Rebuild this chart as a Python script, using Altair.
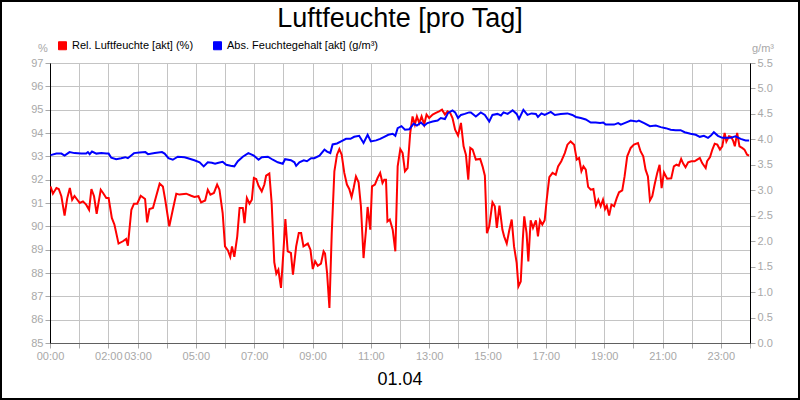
import altair as alt
import pandas as pd

FONT = "Liberation Sans"

series_names = ["Rel. Luftfeuchte [akt] (%)", "Abs. Feuchtegehalt [akt] (g/m³)"]
series_colors = ["#ff0000", "#0000ff"]

rel_hours = [0.02, 0.10, 0.22, 0.30, 0.39, 0.50, 0.59, 0.68, 0.76, 0.84,
             1.02, 1.13, 1.24, 1.34, 1.42, 1.51, 1.60, 1.74, 1.82, 1.93,
             2.01, 2.12, 2.21, 2.35, 2.50, 2.61, 2.67, 2.79, 2.88, 2.99,
             3.11, 3.26, 3.33, 3.41, 3.53, 3.64, 3.76, 3.87, 3.95, 4.09,
             4.21, 4.33, 4.44, 4.67, 4.84, 4.95, 5.09, 5.18, 5.32, 5.41,
             5.50, 5.62, 5.73, 5.81, 5.92, 6.00, 6.10, 6.18, 6.24, 6.32,
             6.42, 6.50, 6.61, 6.67, 6.75, 6.84, 6.92, 6.99, 7.07, 7.15,
             7.26, 7.35, 7.41, 7.52, 7.60, 7.69, 7.76, 7.83, 7.92, 8.00,
             8.07, 8.15, 8.26, 8.33, 8.44, 8.53, 8.61, 8.69, 8.84, 8.93,
             9.01, 9.09, 9.18, 9.29, 9.38, 9.43, 9.50, 9.58, 9.66, 9.75,
             9.84, 9.92, 10.00, 10.09, 10.18, 10.26, 10.34, 10.41, 10.49, 10.58,
             10.66, 10.75, 10.83, 10.89, 10.98, 11.04, 11.14, 11.23, 11.32, 11.40,
             11.46, 11.52, 11.57, 11.65, 11.75, 11.84, 11.92, 12.01, 12.09, 12.17,
             12.26, 12.35, 12.43, 12.51, 12.58, 12.66, 12.74, 12.83, 12.91, 13.00,
             13.12, 13.23, 13.34, 13.44, 13.54, 13.63, 13.72, 13.80, 13.89, 13.99,
             14.09, 14.18, 14.26, 14.34, 14.41, 14.49, 14.60, 14.75, 14.83, 14.91,
             14.98, 15.06, 15.17, 15.25, 15.32, 15.41, 15.51, 15.57, 15.66, 15.74,
             15.83, 15.91, 16.00, 16.06, 16.14, 16.21, 16.26, 16.34, 16.40, 16.48,
             16.56, 16.66, 16.73, 16.80, 16.88, 16.96, 17.03, 17.12, 17.23, 17.34,
             17.42, 17.53, 17.65, 17.74, 17.85, 17.97, 18.06, 18.14, 18.22, 18.29,
             18.37, 18.45, 18.54, 18.63, 18.72, 18.80, 18.88, 18.96, 19.03, 19.09,
             19.17, 19.25, 19.34, 19.43, 19.51, 19.62, 19.70, 19.79, 19.91, 20.02,
             20.16, 20.25, 20.34, 20.42, 20.50, 20.57, 20.65, 20.73, 20.82, 20.90,
             20.97, 21.05, 21.16, 21.30, 21.39, 21.48, 21.56, 21.64, 21.71, 21.79,
             21.88, 21.99, 22.10, 22.19, 22.28, 22.36, 22.48, 22.53, 22.63, 22.71,
             22.79, 22.88, 22.97, 23.05, 23.13, 23.19, 23.28, 23.36, 23.43, 23.48,
             23.56, 23.64, 23.73, 23.81, 23.90, 23.97]

rel_values = [91.71, 91.40, 91.64, 91.60, 91.29, 90.46, 91.20, 91.64, 91.14, 91.30,
              91.00, 91.07, 90.93, 90.71, 91.60, 91.29, 90.54, 91.57, 91.43, 91.21,
              91.21, 90.36, 90.07, 89.26, 89.36, 89.46, 89.17, 90.71, 90.97, 90.97,
              91.31, 91.17, 90.17, 90.74, 90.79, 91.29, 91.83, 91.71, 91.14, 90.00,
              90.71, 91.40, 91.36, 91.40, 91.31, 91.26, 91.29, 91.03, 91.11, 91.57,
              91.36, 91.43, 91.79, 91.57, 90.57, 89.14, 88.97, 88.69, 89.14, 88.69,
              89.57, 90.79, 90.79, 90.14, 91.21, 90.97, 91.14, 92.07, 92.03, 91.74,
              91.50, 91.79, 92.17, 92.26, 91.00, 88.46, 87.97, 88.14, 87.36, 88.86,
              90.31, 88.93, 88.86, 87.93, 89.14, 89.71, 89.71, 89.14, 89.26, 89.00,
              88.17, 88.50, 88.31, 88.40, 88.93, 88.83, 88.00, 86.50, 89.71, 92.36,
              93.07, 93.31, 93.07, 92.29, 91.79, 91.60, 91.26, 91.64, 92.14, 91.89,
              90.86, 88.64, 89.79, 90.83, 89.86, 91.71, 91.79, 92.07, 92.29, 91.86,
              92.00, 92.00, 90.21, 90.29, 89.86, 88.93, 92.57, 93.31, 93.14, 92.36,
              92.50, 94.00, 94.71, 94.36, 94.71, 94.43, 94.71, 94.36, 94.79, 94.64,
              94.79, 94.86, 94.93, 95.00, 94.79, 94.93, 94.86, 94.64, 94.14, 93.89,
              94.43, 93.43, 93.07, 92.00, 93.36, 93.29, 92.86, 92.89, 92.57, 92.17,
              89.71, 90.00, 91.03, 90.86, 89.93, 90.89, 89.86, 89.57, 89.26, 89.79,
              90.29, 89.14, 88.43, 87.43, 87.64, 89.43, 90.43, 89.71, 88.50, 90.26,
              89.93, 90.26, 89.57, 90.26, 90.07, 90.26, 91.14, 92.11, 92.29, 92.21,
              92.57, 92.79, 93.14, 93.50, 93.64, 93.50, 92.86, 92.93, 92.36, 92.57,
              92.43, 91.69, 91.57, 91.60, 90.89, 91.14, 90.86, 91.14, 90.74, 90.89,
              90.46, 90.93, 90.86, 91.21, 91.46, 91.54, 92.14, 93.00, 93.36, 93.50,
              93.57, 93.21, 93.00, 92.43, 92.14, 91.11, 91.29, 91.79, 92.29, 92.64,
              91.64, 92.31, 92.04, 92.06, 92.57, 92.64, 92.60, 92.89, 92.69, 92.53,
              92.74, 92.79, 92.79, 92.86, 92.93, 92.71, 92.50, 92.79, 92.97, 93.29,
              93.54, 93.50, 93.29, 93.43, 94.00, 93.64, 93.86, 93.83, 93.64, 93.43,
              94.00, 93.43, 93.36, 93.29, 93.07, 93.03]

abs_hours = [0.02, 0.22, 0.39, 0.50, 0.67, 0.84, 1.07, 1.24, 1.30, 1.36,
             1.44, 1.59, 1.76, 1.93, 2.01, 2.10, 2.27, 2.44, 2.58, 2.67,
             2.88, 3.07, 3.27, 3.36, 3.59, 3.84, 3.93, 4.06, 4.21, 4.38,
             4.61, 4.73, 4.95, 5.13, 5.27, 5.41, 5.55, 5.66, 5.78, 5.92,
             6.04, 6.19, 6.32, 6.44, 6.61, 6.80, 6.99, 7.15, 7.26, 7.47,
             7.64, 7.81, 7.98, 8.06, 8.26, 8.38, 8.44, 8.55, 8.70, 8.81,
             8.95, 9.06, 9.24, 9.41, 9.50, 9.61, 9.69, 9.84, 9.98, 10.15,
             10.30, 10.43, 10.60, 10.75, 10.89, 11.00, 11.18, 11.32, 11.46, 11.60,
             11.75, 11.84, 11.92, 12.05, 12.17, 12.32, 12.47, 12.58, 12.72, 12.83,
             12.94, 13.12, 13.29, 13.40, 13.54, 13.65, 13.80, 13.89, 13.99, 14.09,
             14.22, 14.37, 14.43, 14.60, 14.77, 14.91, 15.06, 15.17, 15.34, 15.46,
             15.55, 15.69, 15.86, 16.00, 16.08, 16.23, 16.37, 16.51, 16.66, 16.73,
             16.85, 16.96, 17.17, 17.31, 17.51, 17.74, 17.91, 18.03, 18.20, 18.37,
             18.54, 18.71, 18.86, 18.97, 19.05, 19.17, 19.34, 19.48, 19.57, 19.74,
             19.91, 20.11, 20.19, 20.37, 20.57, 20.77, 20.94, 21.11, 21.28, 21.45,
             21.62, 21.76, 21.96, 22.14, 22.28, 22.42, 22.56, 22.65, 22.76, 22.90,
             23.05, 23.20, 23.33, 23.50, 23.68, 23.85, 23.97]

abs_values = [3.69, 3.72, 3.72, 3.68, 3.75, 3.73, 3.72, 3.72, 3.75, 3.71,
              3.76, 3.72, 3.73, 3.72, 3.72, 3.64, 3.61, 3.63, 3.65, 3.63,
              3.73, 3.74, 3.75, 3.71, 3.73, 3.75, 3.72, 3.63, 3.60, 3.66,
              3.65, 3.63, 3.59, 3.55, 3.47, 3.55, 3.54, 3.52, 3.54, 3.56,
              3.50, 3.48, 3.47, 3.57, 3.66, 3.73, 3.68, 3.60, 3.65, 3.66,
              3.60, 3.55, 3.52, 3.61, 3.59, 3.55, 3.48, 3.55, 3.59, 3.57,
              3.63, 3.63, 3.68, 3.80, 3.76, 3.73, 3.90, 3.92, 3.96, 4.01,
              4.01, 4.05, 4.07, 3.93, 4.09, 3.96, 3.98, 4.01, 4.05, 4.09,
              4.11, 4.07, 4.22, 4.26, 4.19, 4.20, 4.31, 4.27, 4.33, 4.27,
              4.32, 4.35, 4.37, 4.42, 4.40, 4.52, 4.57, 4.53, 4.42, 4.48,
              4.50, 4.53, 4.53, 4.45, 4.53, 4.48, 4.35, 4.48, 4.50, 4.47,
              4.53, 4.50, 4.57, 4.50, 4.40, 4.58, 4.48, 4.51, 4.50, 4.44,
              4.51, 4.48, 4.54, 4.48, 4.50, 4.51, 4.48, 4.44, 4.42, 4.39,
              4.33, 4.33, 4.32, 4.33, 4.29, 4.29, 4.29, 4.32, 4.29, 4.33,
              4.37, 4.35, 4.37, 4.32, 4.26, 4.27, 4.24, 4.22, 4.19, 4.18,
              4.18, 4.14, 4.11, 4.09, 4.05, 4.07, 4.03, 4.07, 4.14, 4.07,
              4.03, 4.03, 4.03, 4.06, 4.01, 3.98, 3.98]

hour_grid = list(range(0, 25))
x_label_hours = [0, 2, 3, 5, 7, 9, 11, 13, 15, 17, 19, 21, 23]
pct_ticks = list(range(85, 98))
abs_ticks = [0.0, 0.5, 1.0, 1.5, 2.0, 2.5, 3.0, 3.5, 4.0, 4.5, 5.0, 5.5]

title_text = "Luftfeuchte [pro Tag]"
date_text = "01.04"
left_unit = "%"
right_unit = "g/m³"

rel_df = pd.DataFrame({"hour": rel_hours, "value": rel_values, "series": series_names[0]})
abs_df = pd.DataFrame({"hour": abs_hours, "value": abs_values, "series": series_names[1]})

AX_GRAY = "#a8a8a8"
GRID = "#c4c4c4"

label_list = ",".join(str(h) for h in x_label_hours)
x_axis = alt.Axis(
    values=hour_grid, grid=True, gridColor=GRID, gridWidth=1,
    tickColor=AX_GRAY, tickSize=5, domainColor="#606060",
    labelColor=AX_GRAY, labelFont=FONT, labelFontSize=11, labelPadding=2,
    labelOverlap=False, labelFlush=False, title=None,
    labelExpr=f"indexof([{label_list}], datum.value) >= 0 ? ((datum.value < 10 ? '0' : '') + datum.value + ':00') : ''",
)

x_enc = alt.X("hour:Q", scale=alt.Scale(domain=[0, 24], nice=False, zero=False), axis=x_axis)


def make_legend():
    return alt.Legend(
        title=None, orient="none", legendX=7, legendY=-23, direction="horizontal",
        symbolType="square", symbolSize=64, symbolStrokeWidth=1,
        symbolOpacity=1,
        labelFont=FONT, labelFontSize=11, labelColor="black", labelOffset=4,
        columnPadding=17, labelLimit=400,
    )


series_scale = alt.Scale(domain=series_names, range=series_colors)

rel_line = alt.Chart(rel_df).mark_line(strokeWidth=2, clip=True).encode(
    x=x_enc,
    y=alt.Y("value:Q", scale=alt.Scale(domain=[85, 97], nice=False, zero=False),
            axis=alt.Axis(orient="left", values=pct_ticks, grid=True, gridColor=GRID,
                          tickColor=AX_GRAY, tickSize=5, domainColor="black",
                          labelColor=AX_GRAY, labelFont=FONT, labelFontSize=11,
                          labelPadding=2, title=None)),
    stroke=alt.Stroke("series:N", scale=series_scale, legend=make_legend()),
)

abs_line = alt.Chart(abs_df).mark_line(strokeWidth=2, clip=True).encode(
    x=x_enc,
    y=alt.Y("value:Q", scale=alt.Scale(domain=[0, 5.5], nice=False, zero=False),
            axis=alt.Axis(orient="right", values=abs_ticks, format=".1f", grid=False,
                          tickColor=AX_GRAY, tickSize=5, domainColor="black",
                          labelColor=AX_GRAY, labelFont=FONT, labelFontSize=11,
                          labelPadding=2, title=None)),
    stroke=alt.Stroke("series:N", scale=series_scale, legend=make_legend()),
)

# legend-only layer: no rows survive the filter; it supplies the fill of the legend squares
legend_layer = alt.Chart(rel_df).transform_filter("false").mark_square(filled=True).encode(
    fill=alt.Fill("series:N", scale=series_scale, legend=make_legend()),
)

dummy = alt.Data(values=[{"a": 1}])

title_mark = alt.Chart(dummy).mark_text(
    text=title_text, font=FONT, fontSize=27, color="black", align="center", baseline="alphabetic"
).encode(x=alt.value(350), y=alt.value(-36))

date_mark = alt.Chart(dummy).mark_text(
    text=date_text, font=FONT, fontSize=18, color="black", align="center", baseline="alphabetic"
).encode(x=alt.value(350), y=alt.value(322))

left_unit_mark = alt.Chart(dummy).mark_text(
    text=left_unit, font=FONT, fontSize=11, color=AX_GRAY, align="center", baseline="middle"
).encode(x=alt.value(-7), y=alt.value(-14))

right_unit_mark = alt.Chart(dummy).mark_text(
    text=right_unit, font=FONT, fontSize=11, color=AX_GRAY, align="left", baseline="middle"
).encode(x=alt.value(702), y=alt.value(-14))

border = alt.Chart(dummy).mark_rect(
    fillOpacity=0, stroke="black", strokeWidth=2
).encode(x=alt.value(-49), x2=alt.value(749), y=alt.value(-62), y2=alt.value(336))

chart = alt.layer(
    rel_line, abs_line, legend_layer, title_mark, date_mark, left_unit_mark, right_unit_mark, border
).resolve_scale(y="independent").properties(
    width=700, height=280,
    autosize=alt.AutoSizeParams(type="none"),
    padding={"left": 50, "top": 63, "right": 50, "bottom": 57},
    background="white",
).configure_view(stroke="black", strokeWidth=1)

chart.save("out.html", embed_options={"renderer": "svg", "actions": False})
